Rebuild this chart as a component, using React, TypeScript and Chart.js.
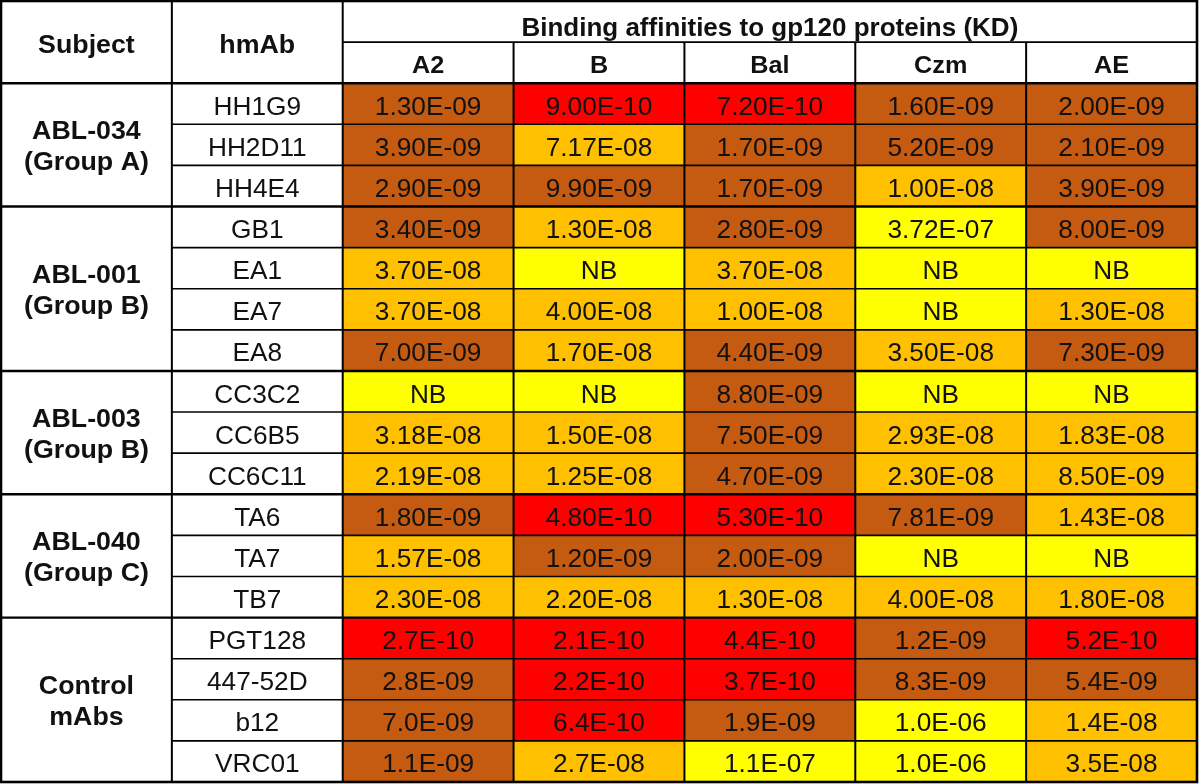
import React, { useEffect, useRef } from "react";
import { Chart, registerables } from "chart.js";

Chart.register(...registerables);

// ---------- data ----------
const antigens = ["A2", "B", "Bal", "Czm", "AE"];
const headerTitle = "Binding affinities to gp120 proteins (KD)";
const subjectHeader = "Subject";
const hmAbHeader = "hmAb";

const subjectNames = ["ABL-034", "ABL-001", "ABL-003", "ABL-040", "Control"];
const subjectGroups = ["(Group A)", "(Group B)", "(Group B)", "(Group C)", "mAbs"];
const subjectSpans = [3, 4, 3, 3, 4];

const hmAbs = [
  "HH1G9", "HH2D11", "HH4E4",
  "GB1", "EA1", "EA7", "EA8",
  "CC3C2", "CC6B5", "CC6C11",
  "TA6", "TA7", "TB7",
  "PGT128", "447-52D", "b12", "VRC01",
];

// KD values as printed (NB = no binding)
const kdA2 = ["1.30E-09", "3.90E-09", "2.90E-09", "3.40E-09", "3.70E-08", "3.70E-08", "7.00E-09", "NB", "3.18E-08", "2.19E-08", "1.80E-09", "1.57E-08", "2.30E-08", "2.7E-10", "2.8E-09", "7.0E-09", "1.1E-09"];
const kdB = ["9.00E-10", "7.17E-08", "9.90E-09", "1.30E-08", "NB", "4.00E-08", "1.70E-08", "NB", "1.50E-08", "1.25E-08", "4.80E-10", "1.20E-09", "2.20E-08", "2.1E-10", "2.2E-10", "6.4E-10", "2.7E-08"];
const kdBal = ["7.20E-10", "1.70E-09", "1.70E-09", "2.80E-09", "3.70E-08", "1.00E-08", "4.40E-09", "8.80E-09", "7.50E-09", "4.70E-09", "5.30E-10", "2.00E-09", "1.30E-08", "4.4E-10", "3.7E-10", "1.9E-09", "1.1E-07"];
const kdCzm = ["1.60E-09", "5.20E-09", "1.00E-08", "3.72E-07", "NB", "NB", "3.50E-08", "NB", "2.93E-08", "2.30E-08", "7.81E-09", "NB", "4.00E-08", "1.2E-09", "8.3E-09", "1.0E-06", "1.0E-06"];
const kdAE = ["2.00E-09", "2.10E-09", "3.90E-09", "8.00E-09", "NB", "1.30E-08", "7.30E-09", "NB", "1.83E-08", "8.50E-09", "1.43E-08", "NB", "1.80E-08", "5.2E-10", "5.4E-09", "1.4E-08", "3.5E-08"];

// colour class of each cell as shown: 0 red, 1 brown, 2 orange, 3 yellow
const lvA2 = [1, 1, 1, 1, 2, 2, 1, 3, 2, 2, 1, 2, 2, 0, 1, 1, 1];
const lvB = [0, 2, 1, 2, 3, 2, 2, 3, 2, 2, 0, 1, 2, 0, 0, 0, 2];
const lvBal = [0, 1, 1, 1, 2, 2, 1, 1, 1, 1, 0, 1, 2, 0, 0, 1, 3];
const lvCzm = [1, 1, 2, 3, 3, 3, 2, 3, 2, 2, 1, 3, 2, 1, 1, 3, 3];
const lvAE = [1, 1, 1, 1, 3, 2, 1, 3, 2, 2, 2, 3, 2, 0, 1, 2, 2];

const levelColors = ["#FF0000", "#C55A11", "#FFC000", "#FFFF00"];

const kdColumns = [kdA2, kdB, kdBal, kdCzm, kdAE];
const lvColumns = [lvA2, lvB, lvBal, lvCzm, lvAE];

const HEADER_ROWS = 2;
const FONT = '"Liberation Sans", Arial, sans-serif';

function drawText(ctx: CanvasRenderingContext2D, text: string, x: number, y: number, font: string, sx = 1) {
  ctx.save();
  ctx.translate(x, y);
  ctx.scale(sx, 1);
  ctx.font = font;
  ctx.textAlign = "center";
  ctx.textBaseline = "alphabetic";
  ctx.fillStyle = "#111111";
  ctx.fillText(text, 0, 0);
  ctx.restore();
}

const tablePlugin = {
  id: "tableGrid",
  afterDatasetsDraw(chart: any) {
    const ctx: CanvasRenderingContext2D = chart.ctx;
    const xs = chart.scales.x;
    const ys = chart.scales.y;
    const nRows = HEADER_ROWS + hmAbs.length;
    const colX = (k: number) => xs.getPixelForValue(k);
    const rowEdge = (i: number) => {
      if (i <= 0) return ys.top;
      if (i >= nRows) return ys.bottom;
      return (ys.getPixelForValue(i - 1) + ys.getPixelForValue(i)) / 2;
    };
    const rowMid = (i: number) => ys.getPixelForValue(i);

    ctx.save();
    ctx.strokeStyle = "#000000";
    const line = (x1: number, y1: number, x2: number, y2: number, w: number) => {
      ctx.lineWidth = w;
      ctx.beginPath();
      ctx.moveTo(x1, y1);
      ctx.lineTo(x2, y2);
      ctx.stroke();
    };
    const L = colX(0), R = colX(7), T = rowEdge(0), B = rowEdge(nRows);

    // group boundaries
    const groupStarts: number[] = [];
    let acc = HEADER_ROWS;
    subjectSpans.forEach((s) => { groupStarts.push(acc); acc += s; });

    // inner row lines
    for (let i = HEADER_ROWS + 1; i < nRows; i++) {
      if (groupStarts.includes(i)) continue;
      line(colX(1), rowEdge(i), R, rowEdge(i), 1.6);
    }
    // header inner line
    line(colX(2), rowEdge(1), R, rowEdge(1), 1.8);
    // vertical lines
    line(colX(1), T, colX(1), B, 2);
    line(colX(2), T, colX(2), B, 2);
    for (let k = 3; k < 7; k++) line(colX(k), rowEdge(1), colX(k), B, 2);
    // group lines
    groupStarts.forEach((g) => line(L, rowEdge(g), R, rowEdge(g), 2.4));
    // outer
    ctx.lineWidth = 2.6;
    ctx.strokeRect(L, T, R - L, B - T);
    ctx.restore();

    // ---- text ----
    const boldBig = `bold 26px ${FONT}`;
    const subHead = `bold 24px ${FONT}`;
    const normal = `25px ${FONT}`;
    const hdrMid = (rowEdge(0) + rowEdge(2)) / 2;
    drawText(ctx, subjectHeader, (colX(0) + colX(1)) / 2, hdrMid + 11, boldBig, 1.03);
    drawText(ctx, hmAbHeader, (colX(1) + colX(2)) / 2, hdrMid + 11, boldBig, 1.03);
    drawText(ctx, headerTitle, (colX(2) + colX(7)) / 2, (rowEdge(0) + rowEdge(1)) / 2 + 14, boldBig, 1.0);
    antigens.forEach((a, c) => {
      drawText(ctx, a, (colX(c + 2) + colX(c + 3)) / 2, (rowEdge(1) + rowEdge(2)) / 2 + 10, subHead, 1.05);
    });
    // subject groups
    subjectNames.forEach((name, g) => {
      const r0 = groupStarts[g];
      const mid = (rowEdge(r0) + rowEdge(r0 + subjectSpans[g])) / 2;
      const cx = (colX(0) + colX(1)) / 2;
      drawText(ctx, name, cx, mid - 6, boldBig, 1.03);
      drawText(ctx, subjectGroups[g], cx, mid + 25, boldBig, 1.03);
    });
    // hmAb names and values
    hmAbs.forEach((h, r) => {
      const y = rowMid(r + HEADER_ROWS) + 11;
      drawText(ctx, h, (colX(1) + colX(2)) / 2, y, normal, 1.05);
      kdColumns.forEach((col, c) => {
        drawText(ctx, col[r], (colX(c + 2) + colX(c + 3)) / 2, y, normal, 1.05);
      });
    });
  },
};

export default function App() {
  const ref = useRef<HTMLCanvasElement | null>(null);
  useEffect(() => {
    document.body.style.margin = "0";
    const canvas = ref.current;
    if (!canvas) return;
    const rowLabels = ["", "", ...hmAbs];
    const datasets = antigens.map((a, c) => ({
      label: a,
      data: rowLabels.map((_, i) => (i < HEADER_ROWS ? null : [c + 2, c + 3])),
      backgroundColor: rowLabels.map((_, i) =>
        i < HEADER_ROWS ? "rgba(0,0,0,0)" : levelColors[lvColumns[c][i - HEADER_ROWS]]
      ),
      borderWidth: 0,
      barPercentage: 1,
      categoryPercentage: 1,
      grouped: false,
    }));
    const chart = new Chart(canvas, {
      type: "bar",
      data: { labels: rowLabels, datasets: datasets as any },
      options: {
        indexAxis: "y",
        animation: false,
        responsive: false,
        maintainAspectRatio: false,
        layout: { padding: { left: 1, right: 3, top: 1, bottom: 2 } },
        scales: {
          x: { type: "linear", min: 0, max: 7, display: false },
          y: { type: "category", offset: true, display: false },
        },
        plugins: { legend: { display: false }, tooltip: { enabled: false } },
      },
      plugins: [tablePlugin],
    });
    return () => chart.destroy();
  }, []);
  return (
    <div style={{ width: 1200, height: 784, background: "#ffffff" }}>
      <canvas ref={ref} width={1200} height={784} style={{ display: "block" }} />
    </div>
  );
}
